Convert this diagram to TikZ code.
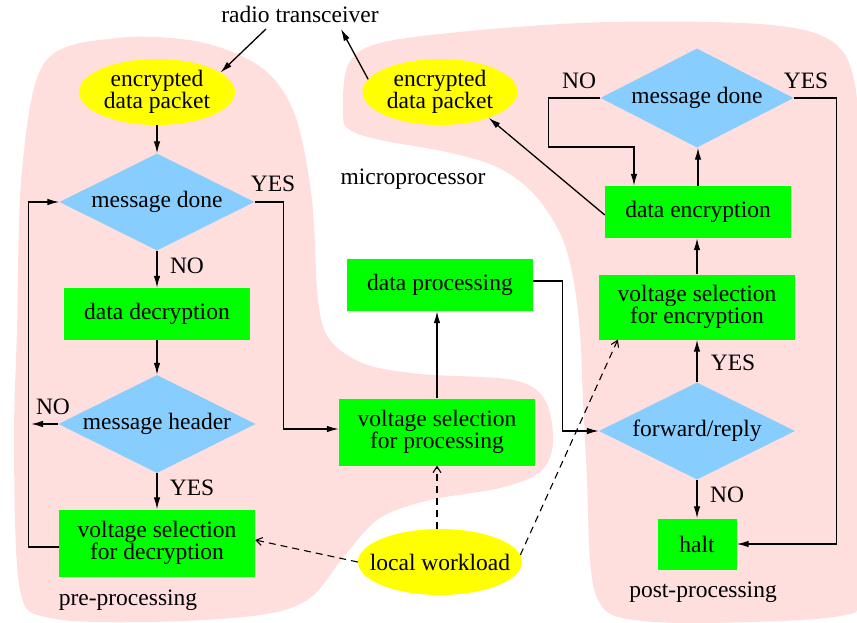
\documentclass[tikz,border=0pt]{standalone}
\usepackage{fontspec}
\setmainfont{Liberation Serif}
\usetikzlibrary{shapes.geometric,arrows.meta}
\definecolor{blobpink}{HTML}{FFDEDE}
\definecolor{ltblue}{HTML}{87CEFF}
\definecolor{fgreen}{HTML}{00FF00}
\definecolor{fyellow}{HTML}{FFFF00}
\begin{document}
\begin{tikzpicture}[x=1pt,y=-1pt,
  every node/.style={font=\fontsize{23.5}{22.5}\selectfont, inner sep=0pt},
  box/.style={rectangle, fill=fgreen, align=center},
  dia/.style={diamond, fill=ltblue, aspect=2},
  ell/.style={ellipse, fill=fyellow, align=center},
  arr/.style={line width=1.3pt, -{Latex[length=12pt,width=6.5pt]}},
  warr/.style={line width=1.1pt, dash pattern=on 7pt off 5pt, -{Straight Barb[length=6pt,width=8pt]}},
]
\useasboundingbox (0,0) rectangle (857,623);
\begin{scope}
\clip (0,0) rectangle (857,623);
\fill[blobpink] plot[smooth cycle, tension=0.55] coordinates {
 (17,330) (22,170) (45,62) (117,38) (200,42) (262,68) (295,115) (312,200)
 (318,300) (330,340) (365,364) (420,374) (513,380) (545,400) (553,443)
 (540,472) (500,488) (430,500) (380,518) (345,555) (310,598) (260,615)
 (150,622) (50,618) (20,590) (14,450)};
\fill[blobpink] plot[smooth cycle, tension=0.55] coordinates {
 (343,115) (348,65) (380,43) (480,30) (610,22) (760,24) (830,40) (855,85)
 (860,200) (860,450) (858,590) (840,616) (700,623) (622,618) (598,600)
 (590,560) (587,480) (583,400) (580,333) (573,277) (560,233) (533,193)
 (497,167) (447,152) (380,140) (350,130)};
\end{scope}

% left column
\node (rt) at (300,14) {radio transceiver};
\coordinate (rtL) at (266,29);
\coordinate (rtR) at (341,29);
\node[ell, minimum width=156pt, minimum height=66pt] (e1) at (157,92) {encrypted\\data packet};
\node[ell, minimum width=155pt, minimum height=66pt] (e2) at (440,92) {encrypted\\data packet};
\node (mp) at (413,179) {microprocessor};
\node[dia, minimum width=195pt, minimum height=97pt] (md1) at (157,202) {message done};
\node (y1) at (273,184) {YES};
\node (n1) at (187,266) {NO};
\node[box, minimum width=186pt, minimum height=52pt] (dd) at (157,314) {data decryption};
\node[dia, minimum width=197pt, minimum height=98pt] (mh) at (157,424) {message header};
\node (n2) at (53,407) {NO};
\coordinate (noend) at (31,424);
\node (y2) at (192,488) {YES};
\node[box, minimum width=196pt, minimum height=67pt] (vsd) at (157,543) {voltage selection\\for decryption};
\node (pre) at (128,600) {pre-processing};

% middle
\node[box, minimum width=196pt, minimum height=67pt] (vsp) at (437,432) {voltage selection\\for processing};
\node[box, minimum width=186pt, minimum height=52pt] (dp) at (440,285) {data processing};
\node[ell, minimum width=164pt, minimum height=66pt, inner xsep=-14pt] (lw) at (440,562) {local workload};

% right column
\node[dia, minimum width=193pt, minimum height=99pt] (md2) at (697,98) {message done};
\node (n3) at (579,81) {NO};
\node (y3) at (806,81) {YES};
\node[box, minimum width=186pt, minimum height=52pt] (de) at (698,212) {data encryption};
\node[box, minimum width=196pt, minimum height=65pt] (vse) at (697,307) {voltage selection\\for encryption};
\node (y4) at (733,363) {YES};
\node[dia, minimum width=196pt, minimum height=97pt] (fr) at (697,431) {forward/reply};
\node (n4) at (727,495) {NO};
\node[box, minimum width=79pt, minimum height=51pt] (halt) at (697,544) {halt};
\node (post) at (703,592) {post-processing};

% solid connectors
\draw[arr] (rtL) -- (e1.17);
\draw[arr] (e2.170) -- (rtR);
\draw[arr] (e1) -- (md1);
\draw[arr] (md1) -- (dd);
\draw[arr] (dd) -- (mh);
\draw[arr] (mh) -- (vsd);
\draw[arr] (mh.west) -- (noend);
\draw[arr] (md1.east) -- ++(29,0) |- ([yshift=3pt]vsp.west);
\draw[arr] ([yshift=-4pt]vsd.west) -- ++(-30,0) |- (md1.west);
\draw[arr] (vsp.north) -- (vsp.north |- dp.south);
\draw[arr] ([yshift=4pt]dp.east) -- ++(29,0) |- (fr.west);
\draw[arr] (fr) -- (vse);
\draw[arr] (fr) -- (halt);
\draw[arr] (vse.north) -- (vse.north |- de.south);
\draw[arr] (de.north) -- (de.north |- md2.south);
\draw[arr] ([yshift=-3pt]de.west) -- (e2.-28);
\draw[arr] (md2.west) -| ++(-52,49) -| ([xshift=-64pt]de.north);
\draw[arr] (md2.east) -- ++(43,0) |- (halt.east);

% dashed connectors
\draw[warr] (vsp.south |- lw.north) -- (vsp.south);
\draw[warr] (lw.west) -- ([yshift=3pt]vsd.east);
\draw[warr] (lw.5) -- ([xshift=19pt]vse.south west);
\end{tikzpicture}
\end{document}
